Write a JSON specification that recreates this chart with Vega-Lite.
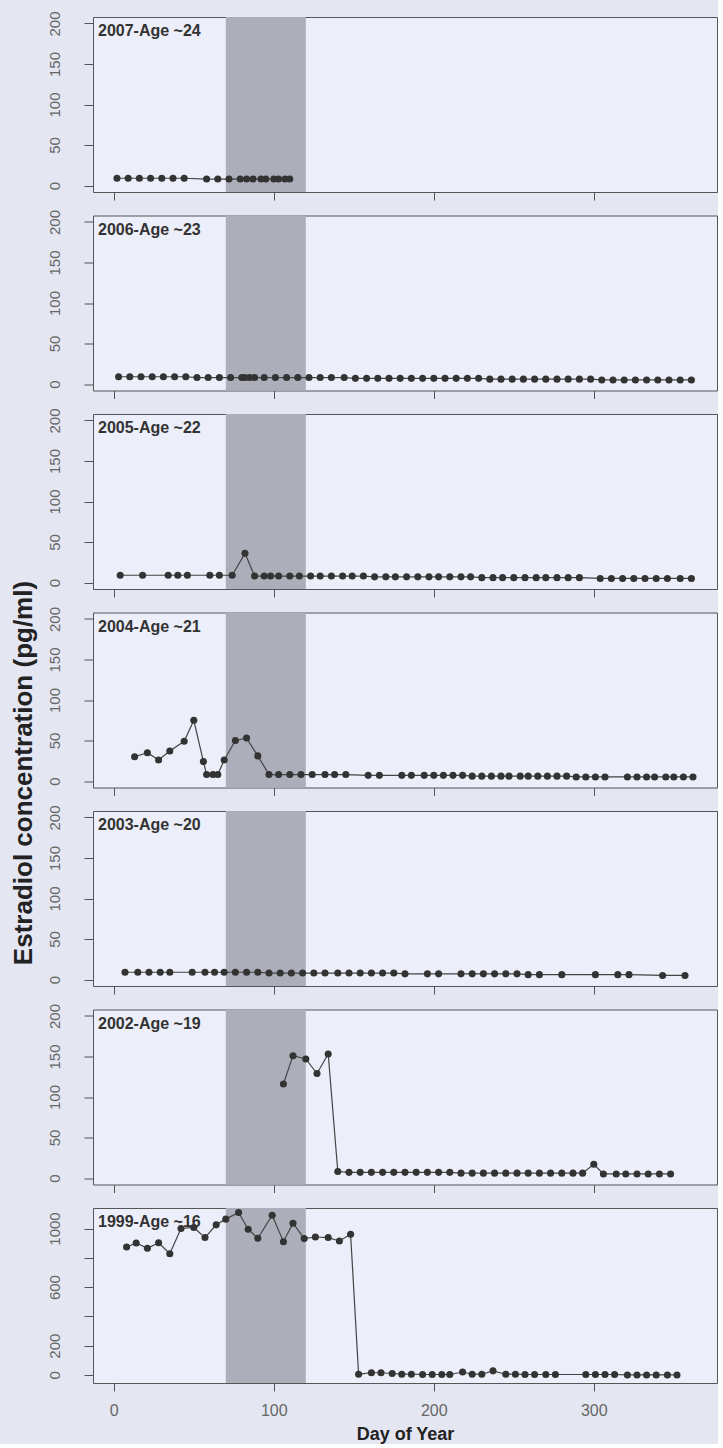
{
"$schema": "https://vega.github.io/schema/vega-lite/v6.json",
"padding": {"left": 9, "top": 10, "right": 0, "bottom": 0},
"background": "#e4e6f2",
"spacing": 23.5,
"bounds": "flush",
"config": {
 "font": "Liberation Sans",
 "view": {"fill": "#eceef9", "stroke": "#555555", "strokeWidth": 1},
 "axis": {"domain": false, "grid": false, "tickColor": "#555555", "tickWidth": 1, "labelColor": "#666666", "titleColor": "#222222", "titleFontWeight": "bold", "labelFont": "Liberation Sans", "titleFont": "Liberation Sans"},
 "axisX": {"tickSize": 8, "labelFontSize": 16, "labelPadding": 11, "titleFontSize": 18, "titlePadding": 7},
 "axisY": {"tickSize": 9, "labelAngle": -90, "labelAlign": "center", "labelBaseline": "bottom", "labelFontSize": 15, "labelPadding": 22, "titleFontSize": 26}
},
"datasets": {
 "e2": [
  {"panel":"2007","day":2,"value":9},{"panel":"2007","day":9,"value":9},{"panel":"2007","day":16,"value":9},{"panel":"2007","day":23,"value":9},{"panel":"2007","day":30,"value":9},{"panel":"2007","day":37,"value":9},{"panel":"2007","day":44,"value":9},{"panel":"2007","day":58,"value":8},{"panel":"2007","day":65,"value":8},{"panel":"2007","day":72,"value":8},{"panel":"2007","day":79,"value":8},{"panel":"2007","day":83,"value":8},{"panel":"2007","day":87,"value":8},{"panel":"2007","day":92,"value":8},{"panel":"2007","day":95,"value":8},{"panel":"2007","day":100,"value":8},{"panel":"2007","day":103,"value":8},{"panel":"2007","day":107,"value":8},{"panel":"2007","day":110,"value":8},

  {"panel":"2006","day":3,"value":9},{"panel":"2006","day":10,"value":9},{"panel":"2006","day":17,"value":9},{"panel":"2006","day":24,"value":9},{"panel":"2006","day":31,"value":9},{"panel":"2006","day":38,"value":9},{"panel":"2006","day":45,"value":9},{"panel":"2006","day":52,"value":8},{"panel":"2006","day":59,"value":8},{"panel":"2006","day":66,"value":8},{"panel":"2006","day":73,"value":8},{"panel":"2006","day":80,"value":8},{"panel":"2006","day":82,"value":8},{"panel":"2006","day":85,"value":8},{"panel":"2006","day":88,"value":8},{"panel":"2006","day":94,"value":8},{"panel":"2006","day":101,"value":8},{"panel":"2006","day":108,"value":8},{"panel":"2006","day":115,"value":8},{"panel":"2006","day":122,"value":8},{"panel":"2006","day":129,"value":8},{"panel":"2006","day":136,"value":8},{"panel":"2006","day":144,"value":8},{"panel":"2006","day":151,"value":7},{"panel":"2006","day":158,"value":7},{"panel":"2006","day":165,"value":7},{"panel":"2006","day":172,"value":7},{"panel":"2006","day":179,"value":7},{"panel":"2006","day":186,"value":7},{"panel":"2006","day":193,"value":7},{"panel":"2006","day":200,"value":7},{"panel":"2006","day":207,"value":7},{"panel":"2006","day":214,"value":7},{"panel":"2006","day":221,"value":7},{"panel":"2006","day":228,"value":7},{"panel":"2006","day":235,"value":6},{"panel":"2006","day":242,"value":6},{"panel":"2006","day":249,"value":6},{"panel":"2006","day":256,"value":6},{"panel":"2006","day":263,"value":6},{"panel":"2006","day":270,"value":6},{"panel":"2006","day":277,"value":6},{"panel":"2006","day":284,"value":6},{"panel":"2006","day":291,"value":6},{"panel":"2006","day":298,"value":6},{"panel":"2006","day":305,"value":5},{"panel":"2006","day":312,"value":5},{"panel":"2006","day":319,"value":5},{"panel":"2006","day":326,"value":5},{"panel":"2006","day":333,"value":5},{"panel":"2006","day":340,"value":5},{"panel":"2006","day":347,"value":5},{"panel":"2006","day":354,"value":5},{"panel":"2006","day":361,"value":5},

  {"panel":"2005","day":4,"value":9},{"panel":"2005","day":18,"value":9},{"panel":"2005","day":34,"value":9},{"panel":"2005","day":40,"value":9},{"panel":"2005","day":46,"value":9},{"panel":"2005","day":60,"value":9},{"panel":"2005","day":66,"value":9},{"panel":"2005","day":74,"value":9},{"panel":"2005","day":82,"value":36},{"panel":"2005","day":88,"value":8},{"panel":"2005","day":94,"value":8},{"panel":"2005","day":98,"value":8},{"panel":"2005","day":103,"value":8},{"panel":"2005","day":110,"value":8},{"panel":"2005","day":116,"value":8},{"panel":"2005","day":123,"value":8},{"panel":"2005","day":129,"value":8},{"panel":"2005","day":136,"value":8},{"panel":"2005","day":143,"value":8},{"panel":"2005","day":149,"value":8},{"panel":"2005","day":156,"value":8},{"panel":"2005","day":163,"value":7},{"panel":"2005","day":170,"value":7},{"panel":"2005","day":176,"value":7},{"panel":"2005","day":183,"value":7},{"panel":"2005","day":190,"value":7},{"panel":"2005","day":197,"value":7},{"panel":"2005","day":203,"value":7},{"panel":"2005","day":210,"value":7},{"panel":"2005","day":217,"value":7},{"panel":"2005","day":223,"value":7},{"panel":"2005","day":230,"value":6},{"panel":"2005","day":237,"value":6},{"panel":"2005","day":243,"value":6},{"panel":"2005","day":250,"value":6},{"panel":"2005","day":257,"value":6},{"panel":"2005","day":264,"value":6},{"panel":"2005","day":270,"value":6},{"panel":"2005","day":277,"value":6},{"panel":"2005","day":284,"value":6},{"panel":"2005","day":291,"value":6},{"panel":"2005","day":304,"value":5},{"panel":"2005","day":311,"value":5},{"panel":"2005","day":318,"value":5},{"panel":"2005","day":325,"value":5},{"panel":"2005","day":332,"value":5},{"panel":"2005","day":339,"value":5},{"panel":"2005","day":346,"value":5},{"panel":"2005","day":354,"value":5},{"panel":"2005","day":361,"value":5},

  {"panel":"2004","day":13,"value":30},{"panel":"2004","day":21,"value":35},{"panel":"2004","day":28,"value":26},{"panel":"2004","day":35,"value":37},{"panel":"2004","day":44,"value":49},{"panel":"2004","day":50,"value":75},{"panel":"2004","day":56,"value":24},{"panel":"2004","day":58,"value":8},{"panel":"2004","day":62,"value":8},{"panel":"2004","day":65,"value":8},{"panel":"2004","day":69,"value":26},{"panel":"2004","day":76,"value":50},{"panel":"2004","day":83,"value":53},{"panel":"2004","day":90,"value":31},{"panel":"2004","day":97,"value":8},{"panel":"2004","day":103,"value":8},{"panel":"2004","day":110,"value":8},{"panel":"2004","day":117,"value":8},{"panel":"2004","day":124,"value":8},{"panel":"2004","day":132,"value":8},{"panel":"2004","day":138,"value":8},{"panel":"2004","day":145,"value":8},{"panel":"2004","day":159,"value":7},{"panel":"2004","day":166,"value":7},{"panel":"2004","day":180,"value":7},{"panel":"2004","day":186,"value":7},{"panel":"2004","day":194,"value":7},{"panel":"2004","day":200,"value":7},{"panel":"2004","day":206,"value":7},{"panel":"2004","day":212,"value":7},{"panel":"2004","day":218,"value":7},{"panel":"2004","day":224,"value":6},{"panel":"2004","day":230,"value":6},{"panel":"2004","day":236,"value":6},{"panel":"2004","day":242,"value":6},{"panel":"2004","day":247,"value":6},{"panel":"2004","day":254,"value":6},{"panel":"2004","day":259,"value":6},{"panel":"2004","day":265,"value":6},{"panel":"2004","day":271,"value":6},{"panel":"2004","day":277,"value":6},{"panel":"2004","day":283,"value":6},{"panel":"2004","day":289,"value":5},{"panel":"2004","day":295,"value":5},{"panel":"2004","day":301,"value":5},{"panel":"2004","day":307,"value":5},{"panel":"2004","day":321,"value":5},{"panel":"2004","day":327,"value":5},{"panel":"2004","day":333,"value":5},{"panel":"2004","day":338,"value":5},{"panel":"2004","day":345,"value":5},{"panel":"2004","day":350,"value":5},{"panel":"2004","day":356,"value":5},{"panel":"2004","day":362,"value":5},

  {"panel":"2003","day":7,"value":9},{"panel":"2003","day":15,"value":9},{"panel":"2003","day":22,"value":9},{"panel":"2003","day":29,"value":9},{"panel":"2003","day":35,"value":9},{"panel":"2003","day":49,"value":9},{"panel":"2003","day":57,"value":9},{"panel":"2003","day":63,"value":9},{"panel":"2003","day":69,"value":9},{"panel":"2003","day":76,"value":9},{"panel":"2003","day":83,"value":9},{"panel":"2003","day":90,"value":9},{"panel":"2003","day":97,"value":8},{"panel":"2003","day":104,"value":8},{"panel":"2003","day":111,"value":8},{"panel":"2003","day":118,"value":8},{"panel":"2003","day":125,"value":8},{"panel":"2003","day":132,"value":8},{"panel":"2003","day":140,"value":8},{"panel":"2003","day":147,"value":8},{"panel":"2003","day":154,"value":8},{"panel":"2003","day":161,"value":8},{"panel":"2003","day":168,"value":8},{"panel":"2003","day":175,"value":8},{"panel":"2003","day":182,"value":7},{"panel":"2003","day":196,"value":7},{"panel":"2003","day":203,"value":7},{"panel":"2003","day":217,"value":7},{"panel":"2003","day":224,"value":7},{"panel":"2003","day":231,"value":7},{"panel":"2003","day":238,"value":7},{"panel":"2003","day":245,"value":7},{"panel":"2003","day":252,"value":7},{"panel":"2003","day":259,"value":6},{"panel":"2003","day":266,"value":6},{"panel":"2003","day":280,"value":6},{"panel":"2003","day":301,"value":6},{"panel":"2003","day":315,"value":6},{"panel":"2003","day":322,"value":6},{"panel":"2003","day":343,"value":5},{"panel":"2003","day":357,"value":5},

  {"panel":"2002","day":106,"value":116},{"panel":"2002","day":112,"value":151},{"panel":"2002","day":120,"value":147},{"panel":"2002","day":127,"value":129},{"panel":"2002","day":134,"value":153},{"panel":"2002","day":140,"value":8},{"panel":"2002","day":147,"value":7},{"panel":"2002","day":154,"value":7},{"panel":"2002","day":161,"value":7},{"panel":"2002","day":168,"value":7},{"panel":"2002","day":175,"value":7},{"panel":"2002","day":182,"value":7},{"panel":"2002","day":189,"value":7},{"panel":"2002","day":196,"value":7},{"panel":"2002","day":203,"value":7},{"panel":"2002","day":210,"value":7},{"panel":"2002","day":217,"value":6},{"panel":"2002","day":224,"value":6},{"panel":"2002","day":231,"value":6},{"panel":"2002","day":238,"value":6},{"panel":"2002","day":245,"value":6},{"panel":"2002","day":252,"value":6},{"panel":"2002","day":259,"value":6},{"panel":"2002","day":266,"value":6},{"panel":"2002","day":273,"value":6},{"panel":"2002","day":280,"value":6},{"panel":"2002","day":287,"value":6},{"panel":"2002","day":293,"value":6},{"panel":"2002","day":300,"value":17},{"panel":"2002","day":306,"value":5},{"panel":"2002","day":314,"value":5},{"panel":"2002","day":320,"value":5},{"panel":"2002","day":327,"value":5},{"panel":"2002","day":334,"value":5},{"panel":"2002","day":341,"value":5},{"panel":"2002","day":348,"value":5},

  {"panel":"1999","day":8,"value":874},{"panel":"1999","day":14,"value":901},{"panel":"1999","day":21,"value":865},{"panel":"1999","day":28,"value":903},{"panel":"1999","day":35,"value":828},{"panel":"1999","day":42,"value":1000},{"panel":"1999","day":50,"value":1007},{"panel":"1999","day":57,"value":938},{"panel":"1999","day":64,"value":1025},{"panel":"1999","day":70,"value":1064},{"panel":"1999","day":78,"value":1109},{"panel":"1999","day":84,"value":995},{"panel":"1999","day":90,"value":933},{"panel":"1999","day":99,"value":1091},{"panel":"1999","day":106,"value":910},{"panel":"1999","day":112,"value":1036},{"panel":"1999","day":119,"value":931},{"panel":"1999","day":126,"value":942},{"panel":"1999","day":134,"value":938},{"panel":"1999","day":141,"value":915},{"panel":"1999","day":148,"value":961},{"panel":"1999","day":153,"value":5},{"panel":"1999","day":161,"value":15},{"panel":"1999","day":167,"value":15},{"panel":"1999","day":174,"value":10},{"panel":"1999","day":180,"value":5},{"panel":"1999","day":186,"value":5},{"panel":"1999","day":193,"value":3},{"panel":"1999","day":199,"value":3},{"panel":"1999","day":205,"value":3},{"panel":"1999","day":210,"value":3},{"panel":"1999","day":218,"value":20},{"panel":"1999","day":224,"value":5},{"panel":"1999","day":230,"value":5},{"panel":"1999","day":237,"value":28},{"panel":"1999","day":245,"value":5},{"panel":"1999","day":251,"value":5},{"panel":"1999","day":257,"value":3},{"panel":"1999","day":263,"value":3},{"panel":"1999","day":270,"value":3},{"panel":"1999","day":276,"value":3},{"panel":"1999","day":295,"value":3},{"panel":"1999","day":301,"value":3},{"panel":"1999","day":307,"value":3},{"panel":"1999","day":313,"value":3},{"panel":"1999","day":321,"value":0},{"panel":"1999","day":327,"value":0},{"panel":"1999","day":333,"value":0},{"panel":"1999","day":339,"value":0},{"panel":"1999","day":346,"value":0},{"panel":"1999","day":352,"value":0}
 ]
},
"vconcat": [
 {"width": 624, "height": 175, "layer": [
  {"data": {"values": [{"start": 70, "end": 120}]}, "mark": {"type": "rect", "color": "#acaeba"},
   "encoding": {"x": {"field": "start", "type": "quantitative", "scale": {"domain": [-13, 377], "nice": false, "zero": false}, "axis": {"values": [0, 100, 200, 300], "labels": false, "title": null}}, "x2": {"field": "end"}}},
  {"data": {"name": "e2"}, "transform": [{"filter": "datum.panel == '2007'"}], "mark": {"type": "line", "color": "#444444", "strokeWidth": 1.2},
   "encoding": {"x": {"field": "day", "type": "quantitative", "scale": {"domain": [-13, 377], "nice": false, "zero": false}, "axis": {"values": [0, 100, 200, 300], "labels": false, "title": null}}, "y": {"field": "value", "type": "quantitative", "scale": {"domain": [-8, 208], "nice": false, "zero": false}, "axis": {"values": [0, 50, 100, 150, 200], "title": null}}}},
  {"data": {"name": "e2"}, "transform": [{"filter": "datum.panel == '2007'"}], "mark": {"type": "circle", "color": "#333333", "opacity": 1, "size": 50},
   "encoding": {"x": {"field": "day", "type": "quantitative", "scale": {"domain": [-13, 377], "nice": false, "zero": false}, "axis": {"values": [0, 100, 200, 300], "labels": false, "title": null}}, "y": {"field": "value", "type": "quantitative", "scale": {"domain": [-8, 208], "nice": false, "zero": false}, "axis": {"values": [0, 50, 100, 150, 200], "title": null}}}},
  {"data": {"values": [{"label": "2007-Age ~24"}]}, "mark": {"type": "text", "align": "left", "baseline": "top", "dx": 5, "dy": 6, "fontSize": 16, "fontWeight": "bold", "color": "#333333"},
   "encoding": {"x": {"datum": -13, "type": "quantitative", "scale": {"domain": [-13, 377], "nice": false, "zero": false}, "axis": {"values": [0, 100, 200, 300], "labels": false, "title": null}}, "y": {"datum": 208, "type": "quantitative", "scale": {"domain": [-8, 208], "nice": false, "zero": false}, "axis": {"values": [0, 50, 100, 150, 200], "title": null}}, "text": {"field": "label"}}}
 ]},
 {"width": 624, "height": 175, "layer": [
  {"data": {"values": [{"start": 70, "end": 120}]}, "mark": {"type": "rect", "color": "#acaeba"},
   "encoding": {"x": {"field": "start", "type": "quantitative", "scale": {"domain": [-13, 377], "nice": false, "zero": false}, "axis": {"values": [0, 100, 200, 300], "labels": false, "title": null}}, "x2": {"field": "end"}}},
  {"data": {"name": "e2"}, "transform": [{"filter": "datum.panel == '2006'"}], "mark": {"type": "line", "color": "#444444", "strokeWidth": 1.2},
   "encoding": {"x": {"field": "day", "type": "quantitative", "scale": {"domain": [-13, 377], "nice": false, "zero": false}, "axis": {"values": [0, 100, 200, 300], "labels": false, "title": null}}, "y": {"field": "value", "type": "quantitative", "scale": {"domain": [-8, 208], "nice": false, "zero": false}, "axis": {"values": [0, 50, 100, 150, 200], "title": null}}}},
  {"data": {"name": "e2"}, "transform": [{"filter": "datum.panel == '2006'"}], "mark": {"type": "circle", "color": "#333333", "opacity": 1, "size": 50},
   "encoding": {"x": {"field": "day", "type": "quantitative", "scale": {"domain": [-13, 377], "nice": false, "zero": false}, "axis": {"values": [0, 100, 200, 300], "labels": false, "title": null}}, "y": {"field": "value", "type": "quantitative", "scale": {"domain": [-8, 208], "nice": false, "zero": false}, "axis": {"values": [0, 50, 100, 150, 200], "title": null}}}},
  {"data": {"values": [{"label": "2006-Age ~23"}]}, "mark": {"type": "text", "align": "left", "baseline": "top", "dx": 5, "dy": 6, "fontSize": 16, "fontWeight": "bold", "color": "#333333"},
   "encoding": {"x": {"datum": -13, "type": "quantitative", "scale": {"domain": [-13, 377], "nice": false, "zero": false}, "axis": {"values": [0, 100, 200, 300], "labels": false, "title": null}}, "y": {"datum": 208, "type": "quantitative", "scale": {"domain": [-8, 208], "nice": false, "zero": false}, "axis": {"values": [0, 50, 100, 150, 200], "title": null}}, "text": {"field": "label"}}}
 ]},
 {"width": 624, "height": 175, "layer": [
  {"data": {"values": [{"start": 70, "end": 120}]}, "mark": {"type": "rect", "color": "#acaeba"},
   "encoding": {"x": {"field": "start", "type": "quantitative", "scale": {"domain": [-13, 377], "nice": false, "zero": false}, "axis": {"values": [0, 100, 200, 300], "labels": false, "title": null}}, "x2": {"field": "end"}}},
  {"data": {"name": "e2"}, "transform": [{"filter": "datum.panel == '2005'"}], "mark": {"type": "line", "color": "#444444", "strokeWidth": 1.2},
   "encoding": {"x": {"field": "day", "type": "quantitative", "scale": {"domain": [-13, 377], "nice": false, "zero": false}, "axis": {"values": [0, 100, 200, 300], "labels": false, "title": null}}, "y": {"field": "value", "type": "quantitative", "scale": {"domain": [-8, 208], "nice": false, "zero": false}, "axis": {"values": [0, 50, 100, 150, 200], "title": null}}}},
  {"data": {"name": "e2"}, "transform": [{"filter": "datum.panel == '2005'"}], "mark": {"type": "circle", "color": "#333333", "opacity": 1, "size": 50},
   "encoding": {"x": {"field": "day", "type": "quantitative", "scale": {"domain": [-13, 377], "nice": false, "zero": false}, "axis": {"values": [0, 100, 200, 300], "labels": false, "title": null}}, "y": {"field": "value", "type": "quantitative", "scale": {"domain": [-8, 208], "nice": false, "zero": false}, "axis": {"values": [0, 50, 100, 150, 200], "title": null}}}},
  {"data": {"values": [{"label": "2005-Age ~22"}]}, "mark": {"type": "text", "align": "left", "baseline": "top", "dx": 5, "dy": 6, "fontSize": 16, "fontWeight": "bold", "color": "#333333"},
   "encoding": {"x": {"datum": -13, "type": "quantitative", "scale": {"domain": [-13, 377], "nice": false, "zero": false}, "axis": {"values": [0, 100, 200, 300], "labels": false, "title": null}}, "y": {"datum": 208, "type": "quantitative", "scale": {"domain": [-8, 208], "nice": false, "zero": false}, "axis": {"values": [0, 50, 100, 150, 200], "title": null}}, "text": {"field": "label"}}}
 ]},
 {"width": 624, "height": 175, "layer": [
  {"data": {"values": [{"start": 70, "end": 120}]}, "mark": {"type": "rect", "color": "#acaeba"},
   "encoding": {"x": {"field": "start", "type": "quantitative", "scale": {"domain": [-13, 377], "nice": false, "zero": false}, "axis": {"values": [0, 100, 200, 300], "labels": false, "title": null}}, "x2": {"field": "end"}}},
  {"data": {"name": "e2"}, "transform": [{"filter": "datum.panel == '2004'"}], "mark": {"type": "line", "color": "#444444", "strokeWidth": 1.2},
   "encoding": {"x": {"field": "day", "type": "quantitative", "scale": {"domain": [-13, 377], "nice": false, "zero": false}, "axis": {"values": [0, 100, 200, 300], "labels": false, "title": null}}, "y": {"field": "value", "type": "quantitative", "scale": {"domain": [-8, 208], "nice": false, "zero": false}, "axis": {"values": [0, 50, 100, 150, 200], "title": "Estradiol concentration (pg/ml)", "titleX": -57, "titleY": 160, "titleAngle": -90, "titleAlign": "center", "titleBaseline": "bottom"}}}},
  {"data": {"name": "e2"}, "transform": [{"filter": "datum.panel == '2004'"}], "mark": {"type": "circle", "color": "#333333", "opacity": 1, "size": 50},
   "encoding": {"x": {"field": "day", "type": "quantitative", "scale": {"domain": [-13, 377], "nice": false, "zero": false}, "axis": {"values": [0, 100, 200, 300], "labels": false, "title": null}}, "y": {"field": "value", "type": "quantitative", "scale": {"domain": [-8, 208], "nice": false, "zero": false}, "axis": {"values": [0, 50, 100, 150, 200], "title": "Estradiol concentration (pg/ml)", "titleX": -57, "titleY": 160, "titleAngle": -90, "titleAlign": "center", "titleBaseline": "bottom"}}}},
  {"data": {"values": [{"label": "2004-Age ~21"}]}, "mark": {"type": "text", "align": "left", "baseline": "top", "dx": 5, "dy": 6, "fontSize": 16, "fontWeight": "bold", "color": "#333333"},
   "encoding": {"x": {"datum": -13, "type": "quantitative", "scale": {"domain": [-13, 377], "nice": false, "zero": false}, "axis": {"values": [0, 100, 200, 300], "labels": false, "title": null}}, "y": {"datum": 208, "type": "quantitative", "scale": {"domain": [-8, 208], "nice": false, "zero": false}, "axis": {"values": [0, 50, 100, 150, 200], "title": "Estradiol concentration (pg/ml)", "titleX": -57, "titleY": 160, "titleAngle": -90, "titleAlign": "center", "titleBaseline": "bottom"}}, "text": {"field": "label"}}}
 ]},
 {"width": 624, "height": 175, "layer": [
  {"data": {"values": [{"start": 70, "end": 120}]}, "mark": {"type": "rect", "color": "#acaeba"},
   "encoding": {"x": {"field": "start", "type": "quantitative", "scale": {"domain": [-13, 377], "nice": false, "zero": false}, "axis": {"values": [0, 100, 200, 300], "labels": false, "title": null}}, "x2": {"field": "end"}}},
  {"data": {"name": "e2"}, "transform": [{"filter": "datum.panel == '2003'"}], "mark": {"type": "line", "color": "#444444", "strokeWidth": 1.2},
   "encoding": {"x": {"field": "day", "type": "quantitative", "scale": {"domain": [-13, 377], "nice": false, "zero": false}, "axis": {"values": [0, 100, 200, 300], "labels": false, "title": null}}, "y": {"field": "value", "type": "quantitative", "scale": {"domain": [-8, 208], "nice": false, "zero": false}, "axis": {"values": [0, 50, 100, 150, 200], "title": null}}}},
  {"data": {"name": "e2"}, "transform": [{"filter": "datum.panel == '2003'"}], "mark": {"type": "circle", "color": "#333333", "opacity": 1, "size": 50},
   "encoding": {"x": {"field": "day", "type": "quantitative", "scale": {"domain": [-13, 377], "nice": false, "zero": false}, "axis": {"values": [0, 100, 200, 300], "labels": false, "title": null}}, "y": {"field": "value", "type": "quantitative", "scale": {"domain": [-8, 208], "nice": false, "zero": false}, "axis": {"values": [0, 50, 100, 150, 200], "title": null}}}},
  {"data": {"values": [{"label": "2003-Age ~20"}]}, "mark": {"type": "text", "align": "left", "baseline": "top", "dx": 5, "dy": 6, "fontSize": 16, "fontWeight": "bold", "color": "#333333"},
   "encoding": {"x": {"datum": -13, "type": "quantitative", "scale": {"domain": [-13, 377], "nice": false, "zero": false}, "axis": {"values": [0, 100, 200, 300], "labels": false, "title": null}}, "y": {"datum": 208, "type": "quantitative", "scale": {"domain": [-8, 208], "nice": false, "zero": false}, "axis": {"values": [0, 50, 100, 150, 200], "title": null}}, "text": {"field": "label"}}}
 ]},
 {"width": 624, "height": 175, "layer": [
  {"data": {"values": [{"start": 70, "end": 120}]}, "mark": {"type": "rect", "color": "#acaeba"},
   "encoding": {"x": {"field": "start", "type": "quantitative", "scale": {"domain": [-13, 377], "nice": false, "zero": false}, "axis": {"values": [0, 100, 200, 300], "labels": false, "title": null}}, "x2": {"field": "end"}}},
  {"data": {"name": "e2"}, "transform": [{"filter": "datum.panel == '2002'"}], "mark": {"type": "line", "color": "#444444", "strokeWidth": 1.2},
   "encoding": {"x": {"field": "day", "type": "quantitative", "scale": {"domain": [-13, 377], "nice": false, "zero": false}, "axis": {"values": [0, 100, 200, 300], "labels": false, "title": null}}, "y": {"field": "value", "type": "quantitative", "scale": {"domain": [-8, 208], "nice": false, "zero": false}, "axis": {"values": [0, 50, 100, 150, 200], "title": null}}}},
  {"data": {"name": "e2"}, "transform": [{"filter": "datum.panel == '2002'"}], "mark": {"type": "circle", "color": "#333333", "opacity": 1, "size": 50},
   "encoding": {"x": {"field": "day", "type": "quantitative", "scale": {"domain": [-13, 377], "nice": false, "zero": false}, "axis": {"values": [0, 100, 200, 300], "labels": false, "title": null}}, "y": {"field": "value", "type": "quantitative", "scale": {"domain": [-8, 208], "nice": false, "zero": false}, "axis": {"values": [0, 50, 100, 150, 200], "title": null}}}},
  {"data": {"values": [{"label": "2002-Age ~19"}]}, "mark": {"type": "text", "align": "left", "baseline": "top", "dx": 5, "dy": 6, "fontSize": 16, "fontWeight": "bold", "color": "#333333"},
   "encoding": {"x": {"datum": -13, "type": "quantitative", "scale": {"domain": [-13, 377], "nice": false, "zero": false}, "axis": {"values": [0, 100, 200, 300], "labels": false, "title": null}}, "y": {"datum": 208, "type": "quantitative", "scale": {"domain": [-8, 208], "nice": false, "zero": false}, "axis": {"values": [0, 50, 100, 150, 200], "title": null}}, "text": {"field": "label"}}}
 ]},
 {"width": 624, "height": 175, "layer": [
  {"data": {"values": [{"start": 70, "end": 120}]}, "mark": {"type": "rect", "color": "#acaeba"},
   "encoding": {"x": {"field": "start", "type": "quantitative", "scale": {"domain": [-13, 377], "nice": false, "zero": false}, "axis": {"values": [0, 100, 200, 300], "title": "Day of Year"}}, "x2": {"field": "end"}}},
  {"data": {"name": "e2"}, "transform": [{"filter": "datum.panel == '1999'"}], "mark": {"type": "line", "color": "#444444", "strokeWidth": 1.2},
   "encoding": {"x": {"field": "day", "type": "quantitative", "scale": {"domain": [-13, 377], "nice": false, "zero": false}, "axis": {"values": [0, 100, 200, 300], "title": "Day of Year"}}, "y": {"field": "value", "type": "quantitative", "scale": {"domain": [-55, 1140], "nice": false, "zero": false}, "axis": {"values": [0, 200, 400, 600, 800, 1000], "format": "d", "labelExpr": "datum.value == 400 || datum.value == 800 ? '' : datum.label", "title": null}}}},
  {"data": {"name": "e2"}, "transform": [{"filter": "datum.panel == '1999'"}], "mark": {"type": "circle", "color": "#333333", "opacity": 1, "size": 50},
   "encoding": {"x": {"field": "day", "type": "quantitative", "scale": {"domain": [-13, 377], "nice": false, "zero": false}, "axis": {"values": [0, 100, 200, 300], "title": "Day of Year"}}, "y": {"field": "value", "type": "quantitative", "scale": {"domain": [-55, 1140], "nice": false, "zero": false}, "axis": {"values": [0, 200, 400, 600, 800, 1000], "format": "d", "labelExpr": "datum.value == 400 || datum.value == 800 ? '' : datum.label", "title": null}}}},
  {"data": {"values": [{"label": "1999-Age ~16"}]}, "mark": {"type": "text", "align": "left", "baseline": "top", "dx": 5, "dy": 6, "fontSize": 16, "fontWeight": "bold", "color": "#333333"},
   "encoding": {"x": {"datum": -13, "type": "quantitative", "scale": {"domain": [-13, 377], "nice": false, "zero": false}, "axis": {"values": [0, 100, 200, 300], "title": "Day of Year"}}, "y": {"datum": 1140, "type": "quantitative", "scale": {"domain": [-55, 1140], "nice": false, "zero": false}, "axis": {"values": [0, 200, 400, 600, 800, 1000], "format": "d", "labelExpr": "datum.value == 400 || datum.value == 800 ? '' : datum.label", "title": null}}, "text": {"field": "label"}}}
 ]}
]
}
